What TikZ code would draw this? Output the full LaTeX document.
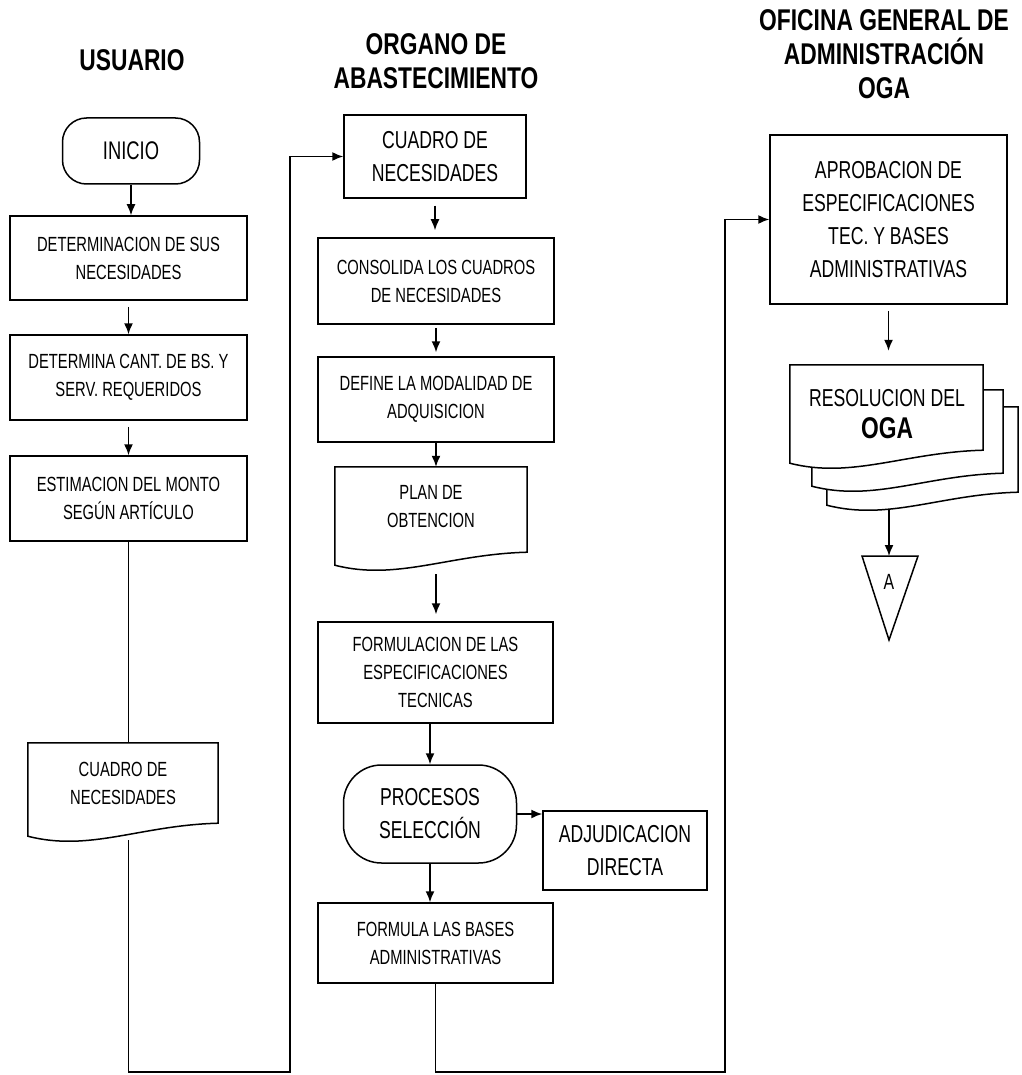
\documentclass[tikz,border=0pt]{standalone}
\usepackage{fontspec}
\setmainfont{Liberation Sans}
\newfontfamily\narrowfont[FakeStretch=0.72]{Liberation Sans}
\newfontfamily\headfont[FakeStretch=0.76]{Liberation Sans}
\usetikzlibrary{arrows.meta,calc}

% text sizes
\newcommand\bodytxt{\narrowfont\fontsize{20.5}{28}\selectfont}
\newcommand\largetxt{\narrowfont\fontsize{24.5}{33}\selectfont}
\newcommand\headtxt{\headfont\bfseries\fontsize{30}{34}\selectfont}

% document symbol: flat top, wavy bottom edge
\newcommand\docshape[2][]{%
  \draw[ln,#1] (#2.south east) -- (#2.north east) -- (#2.north west)
    -- ($(#2.south west)+(0,13)$)
    .. controls ($(#2.south west)+(62,29)$) and ($(#2.south east)+(-78,2)$)
    .. (#2.south east) -- cycle;}

\begin{document}
\begin{tikzpicture}[x=1pt,y=-1pt,
  ln/.style={line width=1.5pt,black},
  arr/.style={ln,-{Latex[length=11pt,width=9pt]}},
  box/.style={draw,ln,rectangle,inner sep=0pt,align=center,font=\bodytxt},
  bigbox/.style={box,font=\largetxt},
  doc/.style={rectangle,inner sep=0pt,align=center,font=\bodytxt},
  head/.style={align=center,font=\headtxt,inner sep=0pt}]

\useasboundingbox (0,0) rectangle (1021,1075);

% column headings
\node[head] (h1) at (132,60) {USUARIO};
\node[head] (h2) at (436,61) {ORGANO DE\\ABASTECIMIENTO};
\node[head] (h3) at (884,54) {OFICINA GENERAL DE\\ADMINISTRACIÓN\\OGA};

% ---- USUARIO ----
\node[box,rounded corners=24pt,minimum width=137pt,minimum height=66pt,
      font=\narrowfont\fontsize{25.5}{30}\selectfont] (ini) at (131,151) {INICIO};
\node[box,minimum width=237pt,minimum height=84pt] (d1) at (128.5,258)
  {DETERMINACION DE SUS\\NECESIDADES};
\node[box,minimum width=237pt,minimum height=85pt] (d2) at (128.5,377.5)
  {DETERMINA CANT. DE BS. Y\\SERV. REQUERIDOS};
\node[box,minimum width=237pt,minimum height=85pt] (d3) at (128.5,498.5)
  {ESTIMACION DEL MONTO\\SEGÚN  ARTÍCULO};
\node[doc,minimum width=190pt,minimum height=80pt] (doc1) at (123,783)
  {CUADRO DE\\NECESIDADES};
\docshape{doc1}

% ---- ORGANO DE ABASTECIMIENTO ----
\node[bigbox,minimum width=182pt,minimum height=83pt] (c1) at (435,156.5)
  {CUADRO DE\\NECESIDADES};
\node[box,minimum width=236pt,minimum height=86pt] (c2) at (436,281)
  {CONSOLIDA LOS CUADROS\\DE NECESIDADES};
\node[box,minimum width=236pt,minimum height=85pt] (c3) at (436,399.5)
  {DEFINE LA MODALIDAD DE\\ADQUISICION};
\node[doc,minimum width=192pt,minimum height=85pt,text depth=6pt] (plan) at (431,509.5)
  {PLAN DE\\OBTENCION};
\docshape{plan}
\node[box,minimum width=235pt,minimum height=101pt] (c4) at (435.5,672.5)
  {FORMULACION DE LAS\\ESPECIFICACIONES\\TECNICAS};
\node[bigbox,rounded corners=38pt,minimum width=173pt,minimum height=98pt] (proc) at (430,814)
  {PROCESOS\\SELECCIÓN};
\node[bigbox,minimum width=164pt,minimum height=79pt] (adj) at (625,850.5)
  {ADJUDICACION\\DIRECTA};
\node[box,minimum width=235pt,minimum height=80pt] (c5) at (435.5,943)
  {FORMULA  LAS BASES\\ADMINISTRATIVAS};

% ---- OGA ----
\node[bigbox,minimum width=237pt,minimum height=169pt] (apr) at (888.5,219.5)
  {APROBACION DE\\ESPECIFICACIONES\\TEC.  Y BASES\\ADMINISTRATIVAS};
\node[doc,minimum width=191pt,minimum height=85pt] (res3) at (922.5,449.5) {};
\node[doc,minimum width=191pt,minimum height=83pt] (res2) at (907.5,431.5) {};
\docshape[fill=white]{res3}
\docshape[fill=white]{res2}
\node[doc,minimum width=193pt,minimum height=85pt] (res1) at (886.5,407.5) {};
\docshape[fill=white]{res1}
\node[inner sep=0pt,font=\narrowfont\fontsize{24.5}{30}\selectfont] (restxt) at (887,398)
  {RESOLUCION  DEL};
\node[inner sep=0pt,font=\headfont\bfseries\fontsize{30}{32}\selectfont] (resoga) at (887,428)
  {OGA};

% off-page connector
\coordinate (ta) at (862,556);
\coordinate (tb) at (918,556);
\coordinate (tc) at (889,640);
\coordinate (ttop) at (889,556);
\draw[ln] (ta) -- (tb) -- (tc) -- cycle;
\node[font=\narrowfont\fontsize{22}{24}\selectfont,inner sep=0pt] (conA) at (889,582) {A};

% ---- connectors ----
\draw[arr] (ini.south) -- (ini.south |- d1.north);
\draw[arr,shorten <=6pt] (d1.south) -- (d2.north);
\draw[arr,shorten <=6pt] (d2.south) -- (d3.north);
\draw[ln] (d3.south) -- (d3.south |- doc1.north);

\coordinate (bl) at (290,1072);
\coordinate (br) at (725,1072);
\draw[arr] ($(d3.south |- doc1.south)+(0,17)$) -- (d3.south |- bl) -- (bl) |- (c1.west);

\draw[arr,shorten <=7pt,shorten >=7pt] (c1.south) -- (c1.south |- c2.north);
\draw[arr,shorten <=3pt,shorten >=4pt] (c2.south) -- (c3.north);
\draw[arr] (c3.south) -- (c3.south |- plan.north);
\draw[arr,shorten >=7pt] ($(c3.south |- plan.south)+(0,22)$) -- (c3.south |- c4.north);
\draw[arr] (c4.south -| proc.north) -- (proc.north);
\draw[arr] (proc.east) -- (proc.east -| adj.west);
\draw[arr] (proc.south) -- (proc.south |- c5.north);
\draw[arr] (c5.south) -- (c5.south |- br) -- (br) |- (apr.west);

\draw[arr,shorten <=6pt,shorten >=14pt] (apr.south) -- (apr.south |- res1.north);
\draw[arr] ($(ttop |- res3.south)+(0,17)$) -- (ttop);

\end{tikzpicture}
\end{document}
